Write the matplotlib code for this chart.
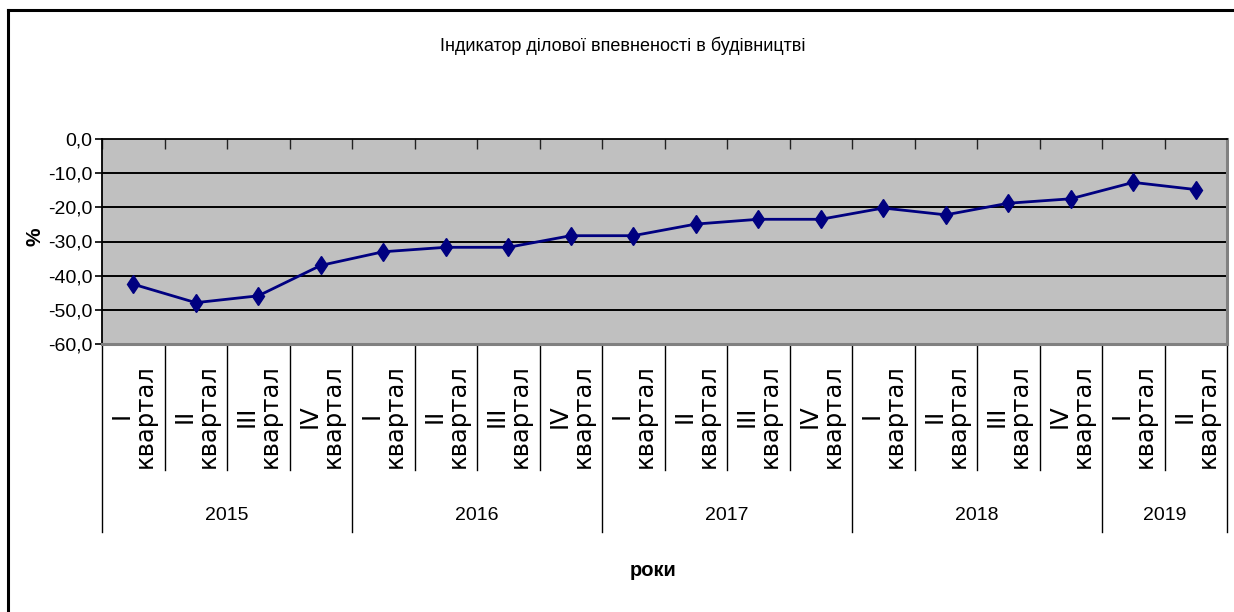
import matplotlib
matplotlib.use("Agg")
import matplotlib.pyplot as plt
from matplotlib.lines import Line2D
from matplotlib import font_manager
import numpy as np

quarters = ["I\nквартал", "II\nквартал", "III\nквартал", "IV\nквартал"] * 4 + ["I\nквартал", "II\nквартал"]
years = ["2015", "2016", "2017", "2018", "2019"]
year_sizes = [4, 4, 4, 4, 2]
values = [-42.5, -47.9, -45.9, -37.0, -33.0, -31.7, -31.7, -28.3, -28.3,
          -24.9, -23.5, -23.5, -20.2, -22.2, -18.8, -17.5, -12.7, -14.8]
yticks = [0, -10, -20, -30, -40, -50, -60]
title = "Індикатор ділової впевненості в будівництві"
ylabel = "%"
xlabel = "роки"

names = {f.name for f in font_manager.fontManager.ttflist}
narrow = ["Liberation Sans Narrow", "Liberation Sans"] if "Liberation Sans Narrow" in names else ["Liberation Sans"]

W, H = 1234, 612
fig = plt.figure(figsize=(W / 100, H / 100), dpi=100)
fig.patch.set_facecolor("white")

L, R, T, B = 102, 1227, 139, 344
ax = fig.add_axes([L / W, 1 - B / H, (R - L) / W, (B - T) / H])
ax.set_facecolor("#C0C0C0")

x = np.arange(len(values))
ax.plot(x, values, color="#000080", lw=2.0, marker="d", markersize=9.5,
        markerfacecolor="#000080", markeredgecolor="#000080", zorder=5)

ax.set_xlim(-0.5, len(values) - 0.5)
ax.set_ylim(-60, 0)
ax.set_yticks(yticks)
ax.set_yticklabels([f"{v:.1f}".replace(".", ",") for v in yticks], family=narrow, fontsize=14)
ax.tick_params(axis="y", direction="out", length=5, width=1.2, pad=2, colors="black")
for v in yticks[1:-1]:
    ax.axhline(v, color="black", lw=1.4, zorder=2)

# category boundary ticks at top (inward)
bounds = np.arange(-0.5, len(values), 1.0)
ax.set_xticks(bounds)
ax.set_xticklabels([])
ax.tick_params(axis="x", which="major", bottom=False, top=True, direction="in",
               length=7, width=1.0, colors="#222222")

for s in ["top", "left"]:
    ax.spines[s].set_color("black")
    ax.spines[s].set_linewidth(1.3)
for s in ["bottom", "right"]:
    ax.spines[s].set_color("#808080")
    ax.spines[s].set_linewidth(2.2)

ph = B - T
tr = ax.get_xaxis_transform()
year_bounds = set(np.cumsum([0] + year_sizes) - 0.5)
for b in bounds:
    depth = 188 if b in year_bounds else 126
    ax.add_line(Line2D([b, b], [0, -depth / ph], transform=tr, color="black",
                       lw=1.0, clip_on=False))

for i, q in enumerate(quarters):
    ax.text(i, -20 / ph, q, transform=tr, rotation=90, ha="center", va="top",
            multialignment="center", fontsize=17.5, family="DejaVu Sans",
            linespacing=0.95, clip_on=False)

start = 0
for yname, n in zip(years, year_sizes):
    ax.text(start + (n - 1) / 2, -(516 - B) / ph, yname, transform=tr, ha="center",
            va="center", fontsize=14, family=narrow, clip_on=False)
    start += n

fig.text(623 / W, 1 - 46 / H, title, ha="center", va="center", fontsize=13, family=narrow)
fig.text(653 / W, 1 - 570 / H, xlabel, ha="center", va="center", fontsize=14.5,
         family=narrow, fontweight="bold")
fig.text(35 / W, 1 - 237 / H, ylabel, ha="center", va="center", fontsize=15,
         family=narrow, fontweight="bold", rotation=90)

fig.add_artist(Line2D([8 / W, 1.0], [1 - 10 / H, 1 - 10 / H], transform=fig.transFigure,
                      color="black", lw=2.2))
fig.add_artist(Line2D([8 / W, 8 / W], [1 - 10 / H, 0], transform=fig.transFigure,
                      color="black", lw=2.2))

fig.savefig("out.png", dpi=100)
